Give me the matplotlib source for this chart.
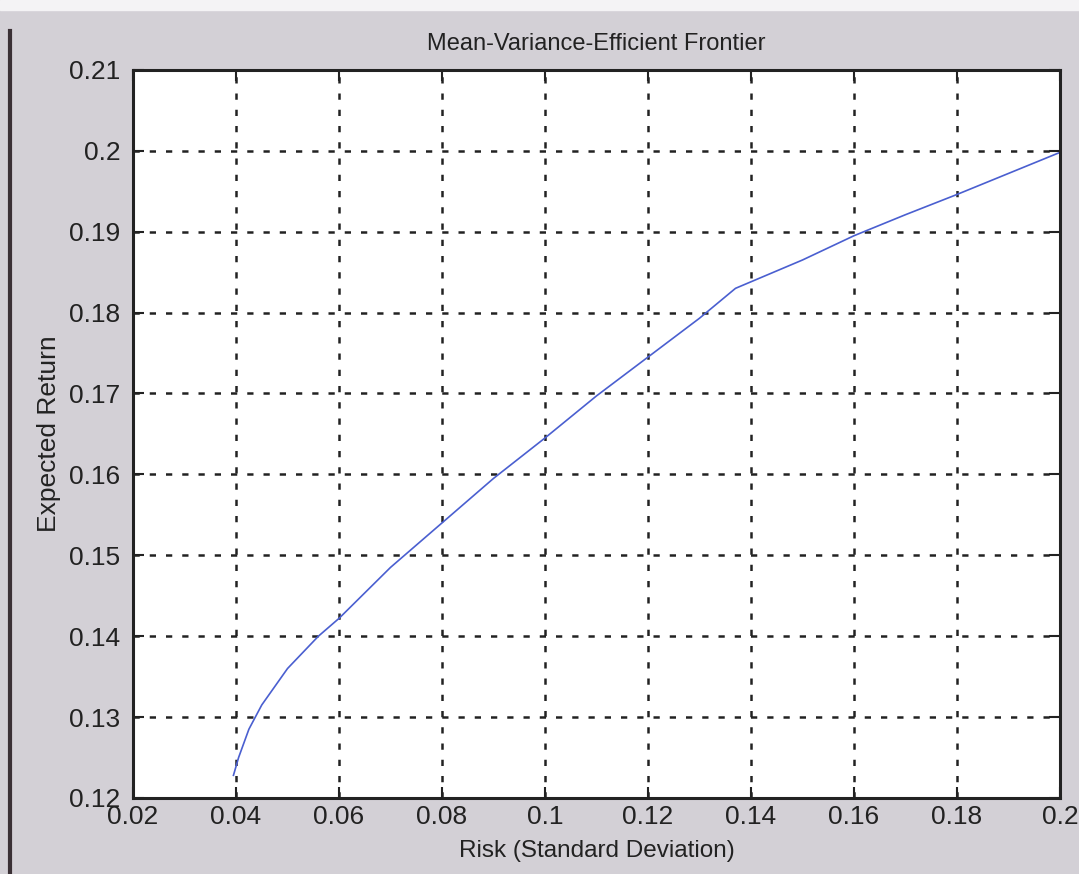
import matplotlib.pyplot as plt
from matplotlib.lines import Line2D
from matplotlib.patches import Rectangle

# efficient frontier
risk = [0.0395, 0.0405, 0.0425, 0.045, 0.050, 0.056, 0.060, 0.070, 0.080, 0.090,
        0.100, 0.110, 0.120, 0.130, 0.137, 0.150, 0.160, 0.170, 0.180, 0.190, 0.200]
ret = [0.1228, 0.1250, 0.1285, 0.1315, 0.1360, 0.1400, 0.1422, 0.1485, 0.1540, 0.1595,
       0.1645, 0.1697, 0.1745, 0.1793, 0.1830, 0.1865, 0.1895, 0.1921, 0.1946, 0.1972, 0.1998]

xticks = [0.02, 0.04, 0.06, 0.08, 0.1, 0.12, 0.14, 0.16, 0.18, 0.2]
xlabels = ['0.02', '0.04', '0.06', '0.08', '0.1', '0.12', '0.14', '0.16', '0.18', '0.2']
yticks = [0.12, 0.13, 0.14, 0.15, 0.16, 0.17, 0.18, 0.19, 0.2, 0.21]
ylabels = ['0.12', '0.13', '0.14', '0.15', '0.16', '0.17', '0.18', '0.19', '0.2', '0.21']

plt.rcParams['font.family'] = ['Liberation Sans', 'DejaVu Sans']

fig = plt.figure(figsize=(10.79, 8.74), dpi=100, facecolor='#d3d0d6')
# whitish strip at the top of the scan
fig.add_artist(Rectangle((0, 0.988), 1, 0.012, color='#f4f3f5', transform=fig.transFigure))

ax = fig.add_axes([0.1233, 0.087, 0.859, 0.833])
ax.set_facecolor('white')

ax.plot(risk, ret, color='#4a5fd0', lw=1.2)

ax.set_xlim(0.02, 0.2)
ax.set_ylim(0.12, 0.21)
ax.set_xticks(xticks, xlabels)
ax.set_yticks(yticks, ylabels)
ax.grid(True, color='#222222', linestyle=(0, (2.5, 4)), lw=1.8)
ax.tick_params(direction='in', length=8, width=1.5, top=True, right=True,
               labelsize=19, colors='#222222')
ax.tick_params(axis='x', pad=5)
ax.tick_params(axis='y', pad=9)
for s in ax.spines.values():
    s.set_linewidth(2.2)
    s.set_color('#222222')

ax.set_title('Mean-Variance-Efficient Frontier', fontsize=17, color='#222222', pad=14)
ax.set_xlabel('Risk (Standard Deviation)', fontsize=17.5, color='#222222', labelpad=8)
ax.set_ylabel('Expected Return', fontsize=19, color='#222222', labelpad=6)

# dark left border of the scanned page
fig.add_artist(Line2D([0.009, 0.009], [0.0, 0.965], color='#3a3035', lw=3,
                      transform=fig.transFigure))

fig.savefig('out.png', dpi=100, facecolor=fig.get_facecolor())
